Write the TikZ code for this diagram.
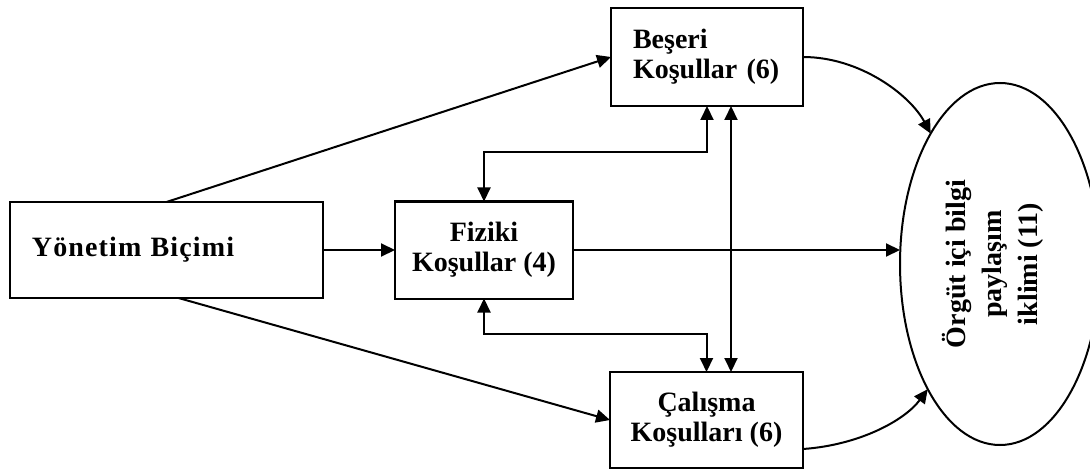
\documentclass[tikz,border=0pt]{standalone}
\usepackage{fontspec}
\usepackage{graphicx}
\setmainfont{Liberation Serif}
\usetikzlibrary{shapes.geometric,arrows.meta,calc}
\begin{document}
\begin{tikzpicture}[x=0.5pt,y=-0.5pt,
  every node/.style={font=\fontsize{14pt}{15pt}\selectfont\bfseries},
  box/.style={draw, line width=1pt, inner sep=0pt, outer sep=0pt},
  tip/.tip={Triangle[length=7pt,width=6.5pt]},
  conn/.style={line width=1pt, -tip},
  biconn/.style={line width=1pt, tip-tip}]
\useasboundingbox (0,0) rectangle (1090,470);
\node[box, minimum width=156.5pt, minimum height=48pt, text width=134.5pt, align=left] (yon) at (166.5,250) {\addfontfeature{LetterSpace=4}Yönetim Biçimi};
\node[box, minimum width=89pt, minimum height=48.5pt, align=center] (fiz) at (484,250) {Fiziki\\Koşullar (4)};
\node[box, minimum width=96pt, minimum height=49pt, text width=74pt, align=left] (bes) at (707,57) {Beşeri\\Koşullar (6)};
\node[box, minimum width=96.5pt, minimum height=48pt, align=center] (cal) at (706.5,420) {Çalışma\\Koşulları (6)};
\node[box, ellipse, minimum width=100pt, minimum height=181pt] (org) at (1000,264)
  {\hspace*{-6pt}\rotatebox{90}{\renewcommand{\arraystretch}{1.2}\begin{tabular}{@{}c@{}}Örgüt içi bilgi\\paylaşım\\iklimi (11)\end{tabular}}};
\draw[conn] (yon.north) -- (bes.west);
\draw[conn] (yon.east) -- (fiz.west);
\draw[conn] ([xshift=6pt]yon.south) -- (cal.west);
\draw[biconn] (fiz.north) -- ++(0,24.5pt) -| (bes.south);
\draw[biconn] (fiz.south) -- ++(0,-17.5pt) -| (cal.north);
\draw[biconn] ([xshift=12pt]bes.south) -- ([xshift=12pt]bes.south |- cal.north);
\draw[conn] (fiz.east) -- (fiz.east -| org.west);
\draw[conn] (bes.east) .. controls (860,57) and (910,95) .. (org.118.8);
\draw[conn] ([yshift=-14.5pt]cal.east) .. controls (860,445) and (905,420) .. (org.240.8);
\end{tikzpicture}
\end{document}
